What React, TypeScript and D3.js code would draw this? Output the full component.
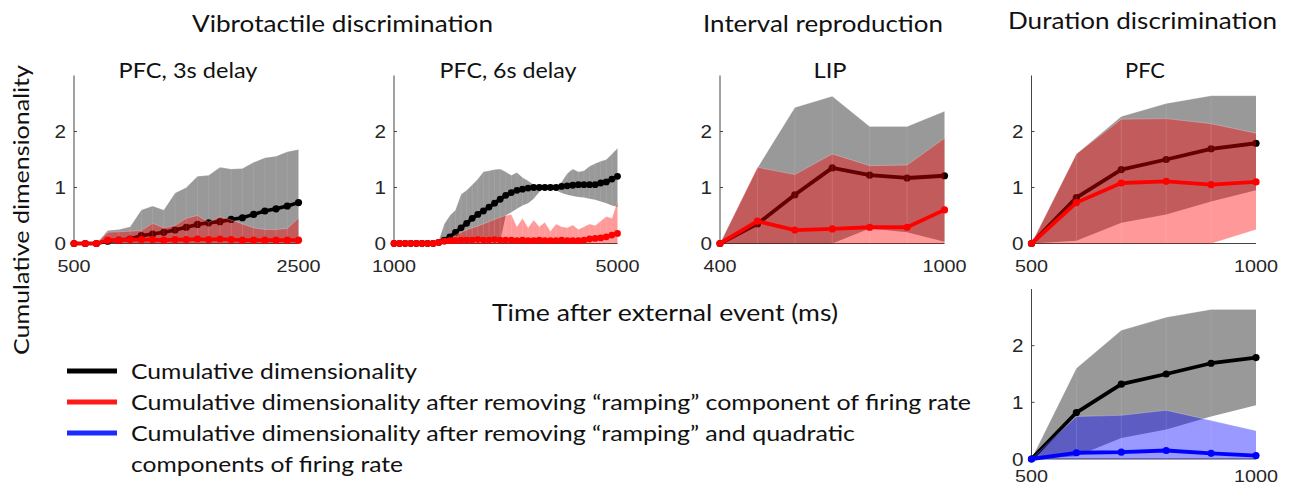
import React from "react";
import * as d3 from "d3";

// ---------- DATA ----------
// Panel 1: Vibrotactile, PFC 3s delay
const P1_X = [500, 600, 700, 800, 900, 1000, 1100, 1200, 1300, 1400, 1500, 1600, 1700, 1800, 1900, 2000, 2100, 2200, 2300, 2400, 2500];
const P1_BLACK = [0, 0, 0, 0.04, 0.06, 0.08, 0.14, 0.17, 0.2, 0.24, 0.29, 0.34, 0.37, 0.39, 0.43, 0.46, 0.52, 0.58, 0.62, 0.67, 0.73];
const P1_GRAY_UP = [0, 0, 0, 0.23, 0.25, 0.3, 0.6, 0.67, 0.6, 0.9, 1.0, 1.2, 1.22, 1.36, 1.33, 1.34, 1.45, 1.53, 1.56, 1.64, 1.68];
const P1_GRAY_LO = [0, 0, 0, 0.01, 0.01, 0.01, 0.01, 0.01, 0.01, 0.01, 0.01, 0.01, 0.01, 0.01, 0.01, 0.01, 0.01, 0.01, 0.01, 0.01, 0.01];
const P1_RED_UP = [0, 0, 0, 0.2, 0.21, 0.22, 0.23, 0.36, 0.28, 0.32, 0.45, 0.5, 0.38, 0.48, 0.42, 0.35, 0.28, 0.25, 0.25, 0.27, 0.45];
const P1_RED_LO = [0, 0, 0, 0, 0, 0, 0, 0, 0, 0, 0, 0, 0, 0, 0, 0, 0, 0, 0, 0, 0];
const P1_RED = [0, 0, 0, 0.06, 0.06, 0.07, 0.07, 0.07, 0.06, 0.07, 0.07, 0.08, 0.07, 0.08, 0.07, 0.06, 0.06, 0.06, 0.06, 0.06, 0.06];

// Panel 2: Vibrotactile, PFC 6s delay
const P2_X = [1000, 1100, 1200, 1300, 1400, 1500, 1600, 1700, 1800, 1900, 2000, 2100, 2200, 2300, 2400, 2500, 2600, 2700, 2800, 2900, 3000, 3100, 3200, 3300, 3400, 3500, 3600, 3700, 3800, 3900, 4000, 4100, 4200, 4300, 4400, 4500, 4600, 4700, 4800, 4900, 5000];
const P2_BLACK = [0, 0, 0, 0, 0, 0, 0, 0, 0.02, 0.06, 0.12, 0.2, 0.28, 0.36, 0.45, 0.52, 0.58, 0.65, 0.72, 0.79, 0.86, 0.91, 0.95, 0.97, 0.99, 1.0, 1.0, 1.0, 1.0, 1.0, 1.02, 1.03, 1.04, 1.05, 1.05, 1.05, 1.05, 1.08, 1.1, 1.15, 1.2];
const P2_GRAY_UP = [0, 0, 0, 0, 0, 0, 0, 0, 0.05, 0.35, 0.5, 0.6, 0.88, 0.95, 1.05, 1.15, 1.28, 1.3, 1.32, 1.33, 1.28, 1.22, 1.27, 1.18, 1.12, 1.05, 1.02, 1.0, 1.0, 1.02, 1.1, 1.25, 1.33, 1.28, 1.3, 1.38, 1.43, 1.47, 1.5, 1.6, 1.7];
const P2_GRAY_LO = [0, 0, 0, 0, 0, 0, 0, 0, 0, 0.01, 0.02, 0.02, 0.03, 0.03, 0.03, 0.04, 0.04, 0.04, 0.05, 0.05, 0.5, 0.56, 0.62, 0.68, 0.72, 0.8, 0.92, 1.0, 0.97, 0.95, 0.9, 0.87, 0.85, 0.83, 0.82, 0.8, 0.78, 0.75, 0.72, 0.68, 0.65];
const P2_RED_UP = [0, 0, 0, 0, 0, 0, 0, 0, 0, 0.03, 0.08, 0.15, 0.2, 0.24, 0.28, 0.31, 0.35, 0.39, 0.43, 0.47, 0.5, 0.52, 0.3, 0.45, 0.28, 0.42, 0.3, 0.38, 0.22, 0.35, 0.3, 0.28, 0.33, 0.25, 0.3, 0.35, 0.32, 0.4, 0.48, 0.45, 0.75];
const P2_RED_LO = [0, 0, 0, 0, 0, 0, 0, 0, 0, 0, 0, 0, 0, 0, 0, 0, 0, 0, 0, 0, 0, 0, 0, 0, 0, 0, 0, 0, 0, 0, 0, 0, 0, 0, 0, 0, 0, 0, 0, 0, 0];
const P2_RED = [0, 0, 0, 0, 0, 0, 0, 0, 0.02, 0.04, 0.05, 0.05, 0.06, 0.06, 0.06, 0.07, 0.06, 0.06, 0.07, 0.06, 0.06, 0.06, 0.05, 0.06, 0.05, 0.05, 0.06, 0.05, 0.05, 0.05, 0.06, 0.05, 0.05, 0.05, 0.06, 0.08, 0.09, 0.1, 0.12, 0.15, 0.18];

// Panel 3: Interval reproduction, LIP
const P3_X = [400, 500, 600, 700, 800, 900, 1000];
const P3_BLACK = [0, 0.35, 0.87, 1.35, 1.22, 1.17, 1.21];
const P3_GRAY_UP = [0, 1.35, 2.43, 2.63, 2.09, 2.09, 2.36];
const P3_GRAY_LO = [0, 0, 0, 0, 0.27, 0.2, 0.03];
const P3_RED_UP = [0, 1.36, 1.23, 1.6, 1.39, 1.4, 1.88];
const P3_RED_LO = [0, 0, 0, 0, 0, 0, 0];
const P3_RED = [0, 0.4, 0.24, 0.26, 0.29, 0.29, 0.6];

// Panel 4 & 5: Duration discrimination, PFC
const P4_X = [500, 600, 700, 800, 900, 1000];
const P4_BLACK = [0, 0.82, 1.32, 1.5, 1.69, 1.79];
const P4_GRAY_UP = [0, 1.6, 2.27, 2.5, 2.64, 2.64];
const P4_GRAY_LO = [0, 0.05, 0.37, 0.52, 0.75, 0.95];
const P4_RED_UP = [0, 1.6, 2.22, 2.23, 2.14, 1.97];
const P4_RED_LO = [0, 0, 0, 0, 0, 0.25];
const P4_RED = [0, 0.73, 1.08, 1.11, 1.05, 1.1];
const P5_BLUE_UP = [0, 0.75, 0.77, 0.86, 0.68, 0.5];
const P5_BLUE_LO = [0, 0, 0, 0, 0, 0];
const P5_BLUE = [0, 0.11, 0.12, 0.15, 0.1, 0.06];

const Y_TICKS = [0, 1, 2];
const Y_DOMAIN: [number, number] = [0, 3];

const TITLES = ["Vibrotactile discrimination", "Interval reproduction", "Duration discrimination"];
const SUBTITLES = ["PFC, 3s delay", "PFC, 6s delay", "LIP", "PFC"];
const Y_LABEL = "Cumulative dimensionality";
const X_LABEL = "Time after external event (ms)";
const LEGEND = [
  "Cumulative dimensionality",
  "Cumulative dimensionality after removing \u201Cramping\u201D component of firing rate",
  "Cumulative dimensionality after removing \u201Cramping\u201D and quadratic",
  "components of firing rate",
];

// ---------- LAYOUT ----------
const HEAD_FONT = "Lato, 'Open Sans', sans-serif";
const TICK_FONT = "'Liberation Sans', Arial, sans-serif";

type PanelSpec = {
  xs: number[];
  black: number[];
  grayUp: number[];
  grayLo: number[];
  colUp: number[];
  colLo: number[];
  col: number[];
  color: string;
  fill: string;
  left: number;
  right: number;
  y0: number;
  yTop: number;
  r: number;
  sw: number;
  labelDy: number;
};

const panels: PanelSpec[] = [
  { xs: P1_X, black: P1_BLACK, grayUp: P1_GRAY_UP, grayLo: P1_GRAY_LO, colUp: P1_RED_UP, colLo: P1_RED_LO, col: P1_RED, color: "#ff0000", fill: "#ff0000", left: 74, right: 298.5, y0: 243.5, yTop: 75.5, r: 3.6, sw: 3.6, labelDy: 28 },
  { xs: P2_X, black: P2_BLACK, grayUp: P2_GRAY_UP, grayLo: P2_GRAY_LO, colUp: P2_RED_UP, colLo: P2_RED_LO, col: P2_RED, color: "#ff0000", fill: "#ff0000", left: 394, right: 617.5, y0: 243.5, yTop: 75.5, r: 3.4, sw: 3.6, labelDy: 28 },
  { xs: P3_X, black: P3_BLACK, grayUp: P3_GRAY_UP, grayLo: P3_GRAY_LO, colUp: P3_RED_UP, colLo: P3_RED_LO, col: P3_RED, color: "#ff0000", fill: "#ff0000", left: 720, right: 944.5, y0: 243.5, yTop: 75.5, r: 3.6, sw: 3.8, labelDy: 28 },
  { xs: P4_X, black: P4_BLACK, grayUp: P4_GRAY_UP, grayLo: P4_GRAY_LO, colUp: P4_RED_UP, colLo: P4_RED_LO, col: P4_RED, color: "#ff0000", fill: "#ff0000", left: 1031.5, right: 1256, y0: 243.5, yTop: 75.5, r: 3.6, sw: 3.8, labelDy: 28 },
  { xs: P4_X, black: P4_BLACK, grayUp: P4_GRAY_UP, grayLo: P4_GRAY_LO, colUp: P5_BLUE_UP, colLo: P5_BLUE_LO, col: P5_BLUE, color: "#0000ff", fill: "#0000ff", left: 1031.5, right: 1256, y0: 459, yTop: 289, r: 3.6, sw: 3.8, labelDy: 23 },
];

function Panel({ p }: { p: PanelSpec }) {
  const x = d3.scaleLinear().domain([p.xs[0], p.xs[p.xs.length - 1]]).range([p.left, p.right]);
  const y = d3.scaleLinear().domain(Y_DOMAIN).range([p.y0, p.yTop]);
  const idxs = p.xs.map((_, i) => i);
  const area = (up: number[], lo: number[]) =>
    d3.area<number>().x((i) => x(p.xs[i])).y0((i) => y(lo[i])).y1((i) => y(up[i]))(idxs) || "";
  const line = (v: number[]) => d3.line<number>().x((i) => x(p.xs[i])).y((i) => y(v[i]))(idxs) || "";
  const seams = (up: number[], lo: number[]) =>
    idxs.slice(1, -1).map((i) => (
      <line key={i} x1={x(p.xs[i])} x2={x(p.xs[i])} y1={y(lo[i])} y2={y(up[i])} stroke="#fff" strokeOpacity={0.14} strokeWidth={0.7} />
    ));
  const first = p.xs[0];
  const last = p.xs[p.xs.length - 1];
  return (
    <g>
      {/* axes */}
      <line x1={p.left} x2={p.left} y1={p.yTop} y2={p.y0} stroke="#444" strokeWidth={1} />
      <line x1={p.left} x2={p.right} y1={p.y0} y2={p.y0} stroke="#444" strokeWidth={1} />
      {Y_TICKS.map((t) => (
        <g key={t}>
          <line x1={p.left} x2={p.left + 3} y1={y(t)} y2={y(t)} stroke="#444" strokeWidth={1} />
          <text x={p.left - 8} y={y(t) + 6.5} textAnchor="end" fontFamily={TICK_FONT} fontSize={18} fill="#262626" textLength={11.5} lengthAdjust="spacingAndGlyphs">
            {t}
          </text>
        </g>
      ))}
      {[first, last].map((v) => {
        const s = String(v);
        return (
          <text key={v} x={x(v)} y={p.y0 + p.labelDy} textAnchor="middle" fontFamily={TICK_FONT} fontSize={17} fill="#262626" textLength={s.length * 11} lengthAdjust="spacingAndGlyphs">
            {s}
          </text>
        );
      })}
      {/* gray band */}
      <path d={area(p.grayUp, p.grayLo)} fill="#000" fillOpacity={0.4} />
      {seams(p.grayUp, p.grayLo)}
      <path d={line(p.grayUp)} fill="none" stroke="#fff" strokeOpacity={0.3} strokeWidth={0.8} />
      {/* black mean */}
      <path d={line(p.black)} fill="none" stroke="#000" strokeWidth={p.sw} strokeLinejoin="round" />
      {idxs.map((i) => (
        <circle key={"b" + i} cx={x(p.xs[i])} cy={y(p.black[i])} r={p.r} fill="#000" />
      ))}
      {/* colored band */}
      <path d={area(p.colUp, p.colLo)} fill={p.fill} fillOpacity={0.4} />
      {seams(p.colUp, p.colLo)}
      <path d={line(p.colUp)} fill="none" stroke="#fff" strokeOpacity={0.3} strokeWidth={0.8} />
      {/* colored mean */}
      <path d={line(p.col)} fill="none" stroke={p.color} strokeWidth={p.sw} strokeLinejoin="round" />
      {idxs.map((i) => (
        <circle key={"c" + i} cx={x(p.xs[i])} cy={y(p.col[i])} r={p.r} fill={p.color} />
      ))}
    </g>
  );
}

export default function App() {
  const W = 1290;
  const H = 487;
  return (
    <svg width={W} height={H} style={{ position: "absolute", left: 0, top: 0, background: "#fff" }}>
      <rect x={0} y={0} width={W} height={H} fill="#fff" />
      {/* titles */}
      <text x={342.5} y={32} textAnchor="middle" fontFamily={HEAD_FONT} fontSize={24} fill="#111" textLength={301} lengthAdjust="spacingAndGlyphs">{TITLES[0]}</text>
      <text x={823} y={32} textAnchor="middle" fontFamily={HEAD_FONT} fontSize={24} fill="#111" textLength={240} lengthAdjust="spacingAndGlyphs">{TITLES[1]}</text>
      <text x={1142.5} y={29} textAnchor="middle" fontFamily={HEAD_FONT} fontSize={24} fill="#111" textLength={269} lengthAdjust="spacingAndGlyphs">{TITLES[2]}</text>
      {/* subtitles */}
      <text x={188} y={78} textAnchor="middle" fontFamily={HEAD_FONT} fontSize={21} fill="#111" textLength={139} lengthAdjust="spacingAndGlyphs">{SUBTITLES[0]}</text>
      <text x={508} y={78} textAnchor="middle" fontFamily={HEAD_FONT} fontSize={21} fill="#111" textLength={137} lengthAdjust="spacingAndGlyphs">{SUBTITLES[1]}</text>
      <text x={830} y={78} textAnchor="middle" fontFamily={HEAD_FONT} fontSize={21} fill="#111" textLength={33} lengthAdjust="spacingAndGlyphs">{SUBTITLES[2]}</text>
      <text x={1145} y={78} textAnchor="middle" fontFamily={HEAD_FONT} fontSize={21} fill="#111" textLength={40} lengthAdjust="spacingAndGlyphs">{SUBTITLES[3]}</text>
      {/* y label */}
      <text transform="translate(29,210) rotate(-90)" textAnchor="middle" fontFamily={HEAD_FONT} fontSize={22} fill="#111" textLength={290} lengthAdjust="spacingAndGlyphs">{Y_LABEL}</text>
      {/* x label */}
      <text x={665} y={321} textAnchor="middle" fontFamily={HEAD_FONT} fontSize={23} fill="#111" textLength={346} lengthAdjust="spacingAndGlyphs">{X_LABEL}</text>
      {panels.map((p, i) => (
        <Panel key={i} p={p} />
      ))}
      {/* legend */}
      {[
        { c: "#000", t: LEGEND[0], y: 371, w: 286 },
        { c: "#ff1a1a", t: LEGEND[1], y: 402, w: 840 },
        { c: "#1a2bff", t: LEGEND[2], y: 433, w: 724 },
      ].map((l, i) => (
        <g key={i}>
          <line x1={67} x2={117} y1={l.y} y2={l.y} stroke={l.c} strokeWidth={5} />
          <text x={131} y={l.y + 8} fontFamily={HEAD_FONT} fontSize={21} fill="#111" textLength={l.w} lengthAdjust="spacingAndGlyphs">{l.t}</text>
        </g>
      ))}
      <text x={131} y={472} fontFamily={HEAD_FONT} fontSize={21} fill="#111" textLength={272} lengthAdjust="spacingAndGlyphs">{LEGEND[3]}</text>
    </svg>
  );
}
